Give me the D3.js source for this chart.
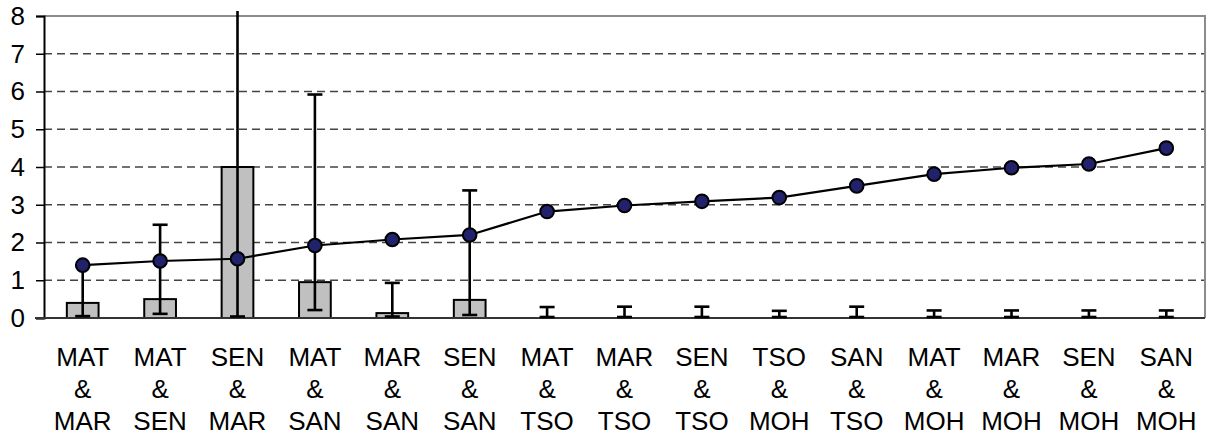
<html>
<head>
    <title>Pairs chart</title>
    <script src="https://d3js.org/d3.v7.min.js"></script>
    <style>
        body {
            margin: 0;
            background-color: white;
            font-family: Arial, "Liberation Sans", sans-serif;
        }
        svg { display: block; }
    </style>
</head>
<body>
    <svg id="chart"></svg>

    <script>
        // categories (3 text lines each)
        const categories = [
            ["MAT", "&", "MAR"], ["MAT", "&", "SEN"], ["SEN", "&", "MAR"], ["MAT", "&", "SAN"],
            ["MAR", "&", "SAN"], ["SEN", "&", "SAN"], ["MAT", "&", "TSO"], ["MAR", "&", "TSO"],
            ["SEN", "&", "TSO"], ["TSO", "&", "MOH"], ["SAN", "&", "TSO"], ["MAT", "&", "MOH"],
            ["MAR", "&", "MOH"], ["SEN", "&", "MOH"], ["SAN", "&", "MOH"]
        ];
        // bar series + its error range (absolute low / high)
        const barValues = [0.4, 0.5, 4.0, 0.95, 0.13, 0.48, 0, 0, 0, 0, 0, 0, 0, 0, 0];
        const errLow  = [0.05, 0.11, 0.04, 0.21, 0.04, 0.08, 0, 0, 0, 0, 0, 0, 0, 0, 0];
        const errHigh = [1.4, 2.47, 8.15, 5.92, 0.93, 3.38, 0.29, 0.3, 0.3, 0.19, 0.3, 0.2, 0.2, 0.2, 0.2];
        // line series
        const lineValues = [1.4, 1.51, 1.57, 1.92, 2.08, 2.2, 2.82, 2.98, 3.09, 3.19, 3.5, 3.81, 3.98, 4.08, 4.5];
        const yTicks = [0, 1, 2, 3, 4, 5, 6, 7, 8];

        const W = 1214, H = 438;
        const margin = { top: 16, right: 9, bottom: 120, left: 44 };

        const svg = d3.select("#chart")
            .attr("width", W)
            .attr("height", H);

        const keys = categories.map((c, i) => i);

        const x = d3.scaleBand()
            .domain(keys)
            .range([margin.left, W - margin.right])
            .padding(0);

        const y = d3.scaleLinear()
            .domain([0, 8])
            .range([H - margin.bottom, margin.top]);

        // error bars may poke a little above the plot, then get cut
        svg.append("clipPath")
            .attr("id", "clip")
            .append("rect")
            .attr("x", 0).attr("y", 11)
            .attr("width", W).attr("height", H);

        // gridlines (dashed)
        svg.append("g")
            .selectAll("line")
            .data(yTicks.filter(t => t > 0 && t < 8))
            .enter()
            .append("line")
            .attr("x1", margin.left)
            .attr("x2", W - margin.right)
            .attr("y1", d => y(d))
            .attr("y2", d => y(d))
            .attr("stroke", "#444")
            .attr("stroke-width", 1.3)
            .attr("stroke-dasharray", "8,5");

        // plot border top / right (gray)
        svg.append("path")
            .attr("d", `M${margin.left},${y(8)}H${W - margin.right}V${y(0)}`)
            .attr("fill", "none")
            .attr("stroke", "#8c8c8c")
            .attr("stroke-width", 2);

        // Y axis
        const yAxis = svg.append("g")
            .attr("transform", "translate(" + margin.left + ",0)")
            .call(d3.axisLeft(y).tickValues(yTicks).tickSize(8).tickPadding(11).tickFormat(d3.format("d")));
        yAxis.select(".domain").attr("stroke", "#000").attr("stroke-width", 2);
        yAxis.selectAll(".tick line").attr("stroke", "#000").attr("stroke-width", 1.5);
        yAxis.selectAll("text")
            .style("font-size", "26px")
            .style("font-family", "Arial, 'Liberation Sans', sans-serif")
            .attr("fill", "#000");

        // bars
        const barW = x.bandwidth() * 0.41;
        svg.append("g")
            .selectAll("rect")
            .data(keys.filter(i => barValues[i] > 0))
            .enter()
            .append("rect")
            .attr("x", i => x(i) + (x.bandwidth() - barW) / 2)
            .attr("y", i => y(barValues[i]))
            .attr("width", barW)
            .attr("height", i => y(0) - y(barValues[i]))
            .attr("fill", "#c0c0c0")
            .attr("stroke", "#000")
            .attr("stroke-width", 2);

        // bottom axis line
        svg.append("line")
            .attr("x1", margin.left - 9)
            .attr("x2", W - margin.right)
            .attr("y1", y(0))
            .attr("y2", y(0))
            .attr("stroke", "#333")
            .attr("stroke-width", 2);

        // error bars
        const capW = 15;
        const cx = i => x(i) + x.bandwidth() / 2;
        const err = svg.append("g")
            .attr("clip-path", "url(#clip)")
            .attr("stroke", "#000")
            .attr("stroke-width", 2.6)
            .selectAll("g")
            .data(keys)
            .enter()
            .append("g");
        err.append("line")
            .attr("x1", cx).attr("x2", cx)
            .attr("y1", i => y(errLow[i]))
            .attr("y2", i => y(errHigh[i]));
        err.filter(i => errHigh[i] <= 8)
            .append("line")
            .attr("x1", i => cx(i) - capW / 2).attr("x2", i => cx(i) + capW / 2)
            .attr("y1", i => y(errHigh[i])).attr("y2", i => y(errHigh[i]));
        err.append("line")
            .attr("x1", i => cx(i) - capW / 2).attr("x2", i => cx(i) + capW / 2)
            .attr("y1", i => Math.min(y(errLow[i]), y(0) - 1)).attr("y2", i => Math.min(y(errLow[i]), y(0) - 1));

        // line series
        const line = d3.line()
            .x((d, i) => cx(i))
            .y(d => y(d));
        svg.append("path")
            .datum(lineValues)
            .attr("d", line)
            .attr("fill", "none")
            .attr("stroke", "#000")
            .attr("stroke-width", 2.2);

        svg.append("g")
            .selectAll("circle")
            .data(lineValues)
            .enter()
            .append("circle")
            .attr("cx", (d, i) => cx(i))
            .attr("cy", d => y(d))
            .attr("r", 6.8)
            .attr("fill", "#22226c")
            .attr("stroke", "#000")
            .attr("stroke-width", 2);

        // category labels
        const labels = svg.append("g")
            .selectAll("text")
            .data(categories)
            .enter()
            .append("text")
            .attr("text-anchor", "middle")
            .style("font-size", "26px")
            .attr("fill", "#000");
        labels.selectAll("tspan")
            .data((d, i) => d.map(t => ({ t, i })))
            .enter()
            .append("tspan")
            .attr("x", d => cx(d.i))
            .attr("y", (d, j) => 366 + j * 32)
            .text(d => d.t);
    </script>
</body>
</html>
